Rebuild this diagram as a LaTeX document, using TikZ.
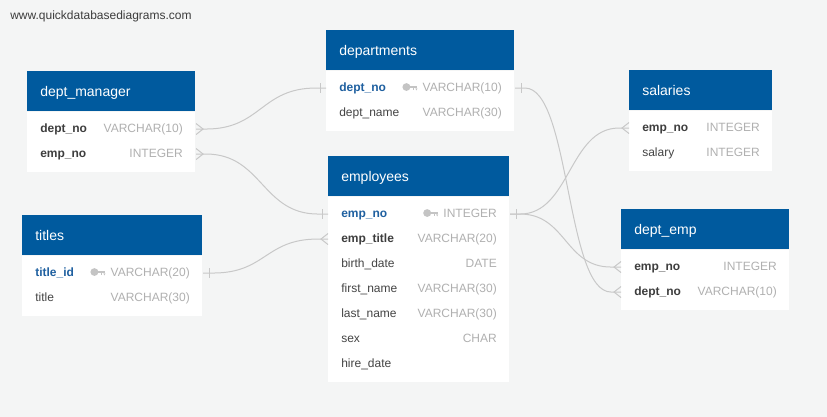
\documentclass[tikz,border=0pt]{standalone}
\usepackage{fontspec}
\setmainfont{Liberation Sans}
\usetikzlibrary{calc}

\definecolor{canvas}{RGB}{244,245,245}
\definecolor{headblue}{RGB}{0,90,158}
\definecolor{pkblue}{RGB}{31,96,160}
\definecolor{fieldgray}{RGB}{68,68,68}
\definecolor{fkgray}{RGB}{62,62,62}
\definecolor{typegray}{RGB}{176,176,176}
\definecolor{keygray}{RGB}{196,196,196}
\definecolor{linkgray}{RGB}{200,200,200}
\definecolor{sitegray}{RGB}{60,60,60}

\tikzset{
  headbox/.style={fill=headblue, draw=none, inner sep=0pt, minimum height=40*0.75pt, anchor=north west},
  bodybox/.style={fill=white, draw=none, inner sep=0pt, anchor=north west},
  rowbox/.style={inner sep=0pt, minimum height=25*0.75pt, anchor=west},
  headtxt/.style={text=white, font=\fontsize{10.5}{12}\selectfont, inner sep=0pt, anchor=base west},
  fieldtxt/.style={text=fieldgray, font=\fontsize{9}{11}\selectfont, inner sep=0pt, anchor=base west},
  fktxt/.style={fieldtxt, text=fkgray, font=\fontsize{9}{11}\selectfont\bfseries},
  pktxt/.style={fieldtxt, text=pkblue, font=\fontsize{9}{11}\selectfont\bfseries},
  typetxt/.style={text=typegray, font=\fontsize{9}{11}\selectfont, inner sep=0pt, anchor=base east},
  link/.style={draw=linkgray, line width=0.75pt},
  pkkey/.pic={
    \fill[keygray] (-11,0) ellipse [x radius=3pt, y radius=2.9pt];
    \fill[keygray] (-9,-1.4) rectangle (0,1.4);
    \fill[keygray] (-4.5,1.4) rectangle (-3,3.4);
    \fill[keygray] (-2,1.4) -- (0,1.4) -- (-1,3.4) -- cycle;
  },
}

% table: id, x, y of top, width, title, number of rows
\newcommand{\erdtable}[6]{%
  \node[headbox, minimum width=#4*0.75pt] (#1-h) at (#2,#3) {};
  \node[bodybox, minimum width=#4*0.75pt, minimum height=(10+25*#6)*0.75pt] (#1-b) at (#1-h.south west) {};
  \node[headtxt] (#1-title) at ($(#1-h.west)+(13,5.5)$) {#5};
}
% row: id, table id, index, field style, field, type
\newcommand{\erdrow}[6]{%
  \path let \p1=($(#2-h.east)-(#2-h.west)$) in
    node[rowbox, minimum width=\x1] (#1) at ($(#2-h.south west)+(0,17.5+25*#3)$) {};
  \node[#4] (#1-f) at ($(#1.west)+(13,3.5)$) {#5};
  \node[typetxt] (#1-t) at ($(#1.east)+(-13,3.5)$) {#6};
}
% primary key glyph in front of the type
\newcommand{\erdkey}[1]{\pic at ($(#1-t.base west)+(-5,-4.5)$) {pkkey};}
% many-side marker: point, direction (+1 right, -1 left)
\newcommand{\crowfoot}[2]{%
  \draw[link] ($(#1)+(0,-5.5)$) -- ($(#1)+(#2*7,0)$) -- ($(#1)+(0,5.5)$);}
% one-side marker
\newcommand{\onebar}[2]{%
  \draw[link] ($(#1)+(#2*6,-5)$) -- ($(#1)+(#2*6,5)$);}
% link from a right-hand port to a left-hand port: start, end, bend
\newcommand{\erdlink}[3]{%
  \draw[link] (#1) -- ++(10,0) .. controls +(#3,0) and +(-#3,0) .. ($(#2)+(-10,0)$) -- (#2);}

\begin{document}
\begin{tikzpicture}[x=0.75pt, y=-0.75pt]
  \fill[canvas] (0,0) rectangle (827,417);
  \useasboundingbox (0,0) rectangle (827,417);

  \node[anchor=base west, inner sep=0pt, text=sitegray, font=\fontsize{9}{11}\selectfont] (site) at (10,20) {www.quickdatabasediagrams.com};

  % dept_manager
  \erdtable{dm}{27}{71}{168}{dept\_manager}{2}
  \erdrow{dmdept}{dm}{0}{fktxt}{dept\_no}{VARCHAR(10)}
  \erdrow{dmemp}{dm}{1}{fktxt}{emp\_no}{INTEGER}

  % departments
  \erdtable{dep}{326}{30}{188}{departments}{2}
  \erdrow{depdept}{dep}{0}{pktxt}{dept\_no}{VARCHAR(10)}
  \erdkey{depdept}
  \erdrow{depname}{dep}{1}{fieldtxt}{dept\_name}{VARCHAR(30)}

  % employees
  \erdtable{emp}{328}{156}{181}{employees}{7}
  \erdrow{empno}{emp}{0}{pktxt}{emp\_no}{INTEGER}
  \erdkey{empno}
  \erdrow{emptitle}{emp}{1}{fktxt}{emp\_title}{VARCHAR(20)}
  \erdrow{empbirth}{emp}{2}{fieldtxt}{birth\_date}{DATE}
  \erdrow{empfirst}{emp}{3}{fieldtxt}{first\_name}{VARCHAR(30)}
  \erdrow{emplast}{emp}{4}{fieldtxt}{last\_name}{VARCHAR(30)}
  \erdrow{empsex}{emp}{5}{fieldtxt}{sex}{CHAR}
  \erdrow{emphire}{emp}{6}{fieldtxt}{hire\_date}{}

  % salaries
  \erdtable{sal}{629}{70}{143}{salaries}{2}
  \erdrow{salemp}{sal}{0}{fktxt}{emp\_no}{INTEGER}
  \erdrow{salsal}{sal}{1}{fieldtxt}{salary}{INTEGER}

  % dept_emp
  \erdtable{de}{621}{209}{168}{dept\_emp}{2}
  \erdrow{deemp}{de}{0}{fktxt}{emp\_no}{INTEGER}
  \erdrow{dedept}{de}{1}{fktxt}{dept\_no}{VARCHAR(10)}

  % titles
  \erdtable{tit}{22}{215}{180}{titles}{2}
  \erdrow{titid}{tit}{0}{pktxt}{title\_id}{VARCHAR(20)}
  \erdkey{titid}
  \erdrow{tittitle}{tit}{1}{fieldtxt}{title}{VARCHAR(30)}

  % relationships
  \erdlink{dmdept.east}{depdept.west}{55}
  \crowfoot{dmdept.east}{1}
  \onebar{depdept.west}{-1}

  \erdlink{dmemp.east}{empno.west}{56}
  \crowfoot{dmemp.east}{1}
  \onebar{empno.west}{-1}

  \erdlink{titid.east}{emptitle.west}{53}
  \onebar{titid.east}{1}
  \crowfoot{emptitle.west}{-1}

  \erdlink{depdept.east}{dedept.west}{45}
  \onebar{depdept.east}{1}
  \crowfoot{dedept.west}{-1}

  \erdlink{empno.east}{salemp.west}{50}
  \erdlink{empno.east}{deemp.west}{46}
  \onebar{empno.east}{1}
  \crowfoot{salemp.west}{-1}
  \crowfoot{deemp.west}{-1}
\end{tikzpicture}
\end{document}
